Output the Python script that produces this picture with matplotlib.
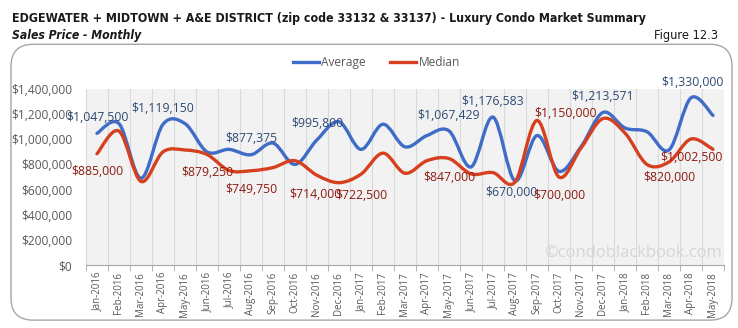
import numpy as np
import matplotlib
matplotlib.use('Agg')
import matplotlib.pyplot as plt
from matplotlib import font_manager
from matplotlib.path import Path
from matplotlib.patches import PathPatch, FancyBboxPatch

# Monthly sales price, Jan-2016 .. May-2018
months = ['Jan-2016', 'Feb-2016', 'Mar-2016', 'Apr-2016', 'May-2016', 'Jun-2016', 'Jul-2016',
          'Aug-2016', 'Sep-2016', 'Oct-2016', 'Nov-2016', 'Dec-2016', 'Jan-2017', 'Feb-2017',
          'Mar-2017', 'Apr-2017', 'May-2017', 'Jun-2017', 'Jul-2017', 'Aug-2017', 'Sep-2017',
          'Oct-2017', 'Nov-2017', 'Dec-2017', 'Jan-2018', 'Feb-2018', 'Mar-2018', 'Apr-2018',
          'May-2018']
average = [1047500, 1125000, 690000, 1119150, 1125000, 900000, 920000, 877375, 970000,
           800000, 995800, 1140000, 920000, 1120000, 940000, 1030000, 1067429, 780000,
           1176583, 670000, 1030000, 745000, 940000, 1213571, 1090000, 1060000, 915000,
           1330000, 1190000]
median = [885000, 1065000, 665000, 900000, 915000, 879250, 752000, 749750, 775000,
          830000, 714000, 655000, 722500, 890000, 730000, 830000, 847000, 725000,
          735000, 660000, 1150000, 700000, 930000, 1165000, 1050000, 800000, 820000,
          1002500, 920000]

# which points carry a data label, and the label offset (pixels) from the point
avg_labels = {0: (0, 16), 3: (0, 16), 7: (0, 16), 10: (0, 16), 16: (0, 15),
              18: (0, 16), 19: (-4, -12), 23: (0, 16), 27: (1, 15)}
med_labels = {0: (0, -18), 5: (0, -18), 7: (0, -19), 10: (-2, -19), 12: (0, -21),
              16: (0, -19), 20: (29, 7), 21: (0, -18), 26: (0, -16), 27: (0, -19)}

blue = '#3f6cc7'
red = '#d6401e'
gray_txt = '#595959'
body_font = ['Open Sans', 'DejaVu Sans']


def narrow_props(weight='bold', style='normal'):
    # look for a condensed / narrow sans face; fall back to Liberation Sans
    for f in font_manager.fontManager.ttflist:
        name = f.name.lower()
        path = f.fname.lower()
        if 'serif' in name or 'mono' in name or 'serif' in path or 'mono' in path:
            continue
        narrow = ('narrow' in name or 'condensed' in name or 'condensed' in str(f.stretch)
                  or 'condensed' in path)
        if not narrow:
            continue
        if (style == 'normal') != (f.style == 'normal'):
            continue
        w = f.weight if isinstance(f.weight, int) else (700 if 'bold' in str(f.weight) else 400)
        if (weight == 'bold') != (w >= 600):
            continue
        return font_manager.FontProperties(fname=f.fname)
    return font_manager.FontProperties(family=['Liberation Sans', 'DejaVu Sans'],
                                       weight=weight, style=style)


def smooth_path(xs, ys):
    # Excel-style smoothed line: Catmull-Rom segments as cubic Beziers
    pts = np.column_stack([xs, ys]).astype(float)
    verts = [pts[0]]
    codes = [Path.MOVETO]
    n = len(pts)
    for i in range(n - 1):
        p0 = pts[i - 1] if i > 0 else pts[i]
        p1 = pts[i]
        p2 = pts[i + 1]
        p3 = pts[i + 2] if i + 2 < n else pts[i + 1]
        c1 = p1 + (p2 - p0) / 6.0
        c2 = p2 - (p3 - p1) / 6.0
        verts += [c1, c2, p2]
        codes += [Path.CURVE4] * 3
    return Path(verts, codes)


def fit_width(txt, width_px, renderer):
    # shrink a text until it spans at most width_px
    for _ in range(20):
        w = txt.get_window_extent(renderer).width
        if w <= width_px:
            break
        txt.set_fontsize(txt.get_fontsize() * width_px / w)


fig = plt.figure(figsize=(7.38, 3.28), dpi=100)
fig.patch.set_facecolor('white')

# rounded frame
frame = FancyBboxPatch((0.0149, 0.024), 0.977, 0.841, boxstyle='round,pad=0,rounding_size=0.03',
                       transform=fig.transFigure, facecolor='none', edgecolor='#a6a6a6',
                       linewidth=1.0, mutation_aspect=738 / 328)
fig.patches.append(frame)

t1 = fig.text(0.016, 0.944, 'EDGEWATER + MIDTOWN + A&E DISTRICT (zip code 33132 & 33137) - Luxury Condo Market Summary',
              fontproperties=narrow_props('bold'), color='#1a1a1a', va='center')
t1.set_fontsize(11)
t2 = fig.text(0.016, 0.891, 'Sales Price - Monthly', fontproperties=narrow_props('bold', 'italic'),
              color='#1a1a1a', va='center')
t2.set_fontsize(11)
t3 = fig.text(0.973, 0.891, 'Figure 12.3', fontproperties=narrow_props('normal'), color='#1a1a1a',
              va='center', ha='right')
t3.set_fontsize(11)

renderer = fig.canvas.get_renderer()
fit_width(t1, 635, renderer)
fit_width(t2, 130, renderer)
fit_width(t3, 65, renderer)

ax = fig.add_axes([0.1165, 0.192, 0.8645, 0.5366])
ax.set_facecolor('#f2f2f2')
x = np.arange(len(months))

ax.add_patch(PathPatch(smooth_path(x, average), facecolor='none', edgecolor=blue, lw=2.4,
                       capstyle='round', joinstyle='round', zorder=3))
ax.add_patch(PathPatch(smooth_path(x, median), facecolor='none', edgecolor=red, lw=2.4,
                       capstyle='round', joinstyle='round', zorder=4))

for i, (dx, dy) in avg_labels.items():
    ax.annotate('${:,.0f}'.format(average[i]), (x[i], average[i]), xytext=(dx * 0.72, dy * 0.72),
                textcoords='offset points', ha='center', va='center', fontsize=8.8,
                family=body_font, color='#2e4a73', zorder=5)
for i, (dx, dy) in med_labels.items():
    ax.annotate('${:,.0f}'.format(median[i]), (x[i], median[i]), xytext=(dx * 0.72, dy * 0.72),
                textcoords='offset points', ha='center', va='center', fontsize=8.8,
                family=body_font, color='#8b1a10', zorder=5)

ax.set_xlim(-0.5, len(months) - 0.5)
ax.set_ylim(0, 1400000)
ax.set_yticks(np.arange(0, 1400001, 200000))
ax.set_yticklabels(['${:,.0f}'.format(v) for v in np.arange(0, 1400001, 200000)],
                   fontsize=8.6, color=gray_txt, family=body_font)
ax.set_xticks(x)
ax.set_xticklabels(months, rotation=90, fontsize=7, color=gray_txt, family=body_font)
ax.set_xticks(np.arange(-0.5, len(months), 1), minor=True)
ax.tick_params(axis='x', which='major', length=0, pad=5)
ax.tick_params(axis='x', which='minor', length=4, color='#a6a6a6', direction='out')
ax.tick_params(axis='y', length=0, pad=10)
ax.grid(True, which='minor', axis='x', color='#d9d9d9', lw=0.8)
ax.set_axisbelow(True)
for s in ['top', 'left', 'right']:
    ax.spines[s].set_visible(False)
ax.spines['bottom'].set_color('#a6a6a6')

ax.text(0.997, 0.07, '\u00a9condoblackbook.com', transform=ax.transAxes, ha='right', va='center',
        fontsize=12, family=body_font, color='#d6d6d6', zorder=2)

# legend
ax.plot([], [], color=blue, lw=2.4, label='Average')
ax.plot([], [], color=red, lw=2.4, label='Median')
leg = ax.legend(loc='lower center', bbox_to_anchor=(0.455, 1.05), ncol=2, frameon=False,
                prop={'family': body_font, 'size': 8.6}, handlelength=2.2, handletextpad=0.2,
                columnspacing=2.0)
for t in leg.get_texts():
    t.set_color(gray_txt)

fig.savefig('out.png', dpi=100)
